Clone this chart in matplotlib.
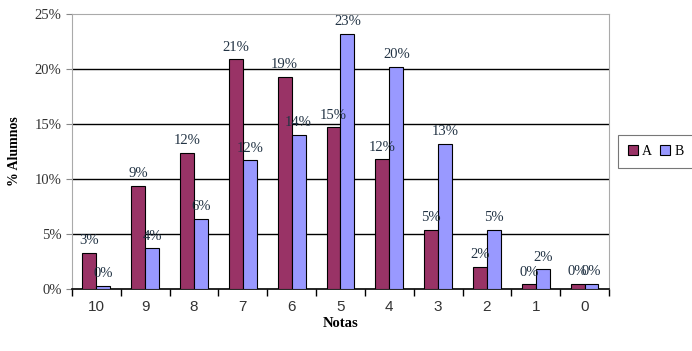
import numpy as np
from matplotlib import pyplot as plt

notas = ['10', '9', '8', '7', '6', '5', '4', '3', '2', '1', '0']
serie_a = [3.3, 9.4, 12.4, 20.9, 19.3, 14.7, 11.8, 5.4, 2.0, 0.4, 0.45]
serie_b = [0.3, 3.7, 6.4, 11.7, 14.0, 23.2, 20.2, 13.2, 5.4, 1.8, 0.45]
yticks = [0, 5, 10, 15, 20, 25]

serif = 'Liberation Serif'
sans = 'Liberation Sans'

fig = plt.figure(figsize=(6.92, 3.51), dpi=100)
ax = fig.add_axes([0.104, 0.177, 0.776, 0.783])

x = np.arange(len(notas))
w = 0.2857
ba = ax.bar(x - w/2, serie_a, w, color='#993366', edgecolor='black', linewidth=0.8, label='A', zorder=3)
bb = ax.bar(x + w/2, serie_b, w, color='#9999FF', edgecolor='black', linewidth=0.8, label='B', zorder=3)

for bars, vals in ((ba, serie_a), (bb, serie_b)):
    for r, v in zip(bars, vals):
        ax.annotate('%d%%' % round(v), (r.get_x() + r.get_width()/2, v),
                    xytext=(0, 4), textcoords='offset points', ha='center', va='bottom',
                    fontsize=10.5, family=serif, color='#223344', zorder=4)

ax.set_xlim(-0.5, len(notas) - 0.5)
ax.set_ylim(0, 25)
ax.set_yticks(yticks)
ax.set_yticklabels(['%d%%' % t for t in yticks], family=serif, fontsize=10.5, color='#333333')
for t in yticks[1:-1]:
    ax.axhline(t, color='black', linewidth=1, zorder=1)

ax.set_xticks(x)
ax.set_xticklabels(notas, family=sans, fontsize=11, color='#333333')
ax.tick_params(axis='x', which='major', length=0, pad=8)
ax.set_xticks(np.arange(-0.5, len(notas)), minor=True)
ax.tick_params(axis='x', which='minor', length=5, width=1, color='black')
ax.tick_params(axis='y', length=4, color='#888888')

for s in ('top', 'right', 'left'):
    ax.spines[s].set_color('#aaaaaa')
ax.spines['bottom'].set_color('black')
ax.spines['bottom'].set_linewidth(1.2)

ax.set_ylabel('% Alumnos', family=serif, fontweight='bold', fontsize=10, labelpad=10)
ax.set_xlabel('Notas', family=serif, fontweight='bold', fontsize=10.5, labelpad=2)

leg = ax.legend(loc='center left', bbox_to_anchor=(1.01, 0.5), ncol=2, frameon=True,
                fancybox=False, edgecolor='#555555', prop={'family': serif, 'size': 10},
                handlelength=0.7, handleheight=0.7, handletextpad=0.3, columnspacing=0.6,
                borderpad=0.7, borderaxespad=0.3)
leg.get_frame().set_linewidth(0.8)

fig.savefig('out.png', dpi=100)
